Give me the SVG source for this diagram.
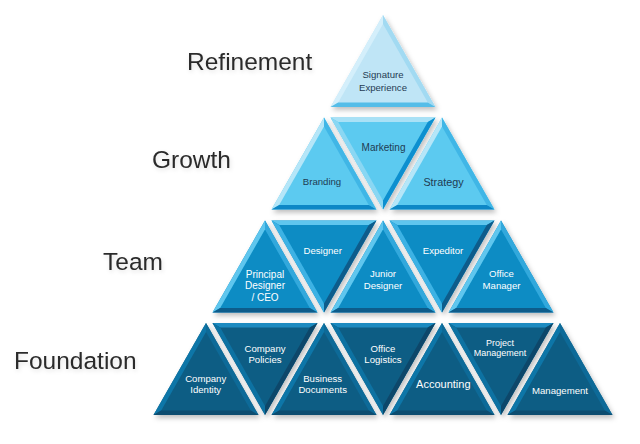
<svg xmlns="http://www.w3.org/2000/svg" xmlns:xlink="http://www.w3.org/1999/xlink" width="640" height="444" viewBox="0 0 640 444">
<defs>
<style>
.lbl{font-family:"Liberation Sans",Arial,sans-serif;font-size:24.5px;fill:#2b2b2b}
.t{font-family:"Liberation Sans",Arial,sans-serif;font-size:9.6px;text-anchor:middle}
.dk{fill:#1f3b52}
.wt{fill:#ffffff}
.tri{filter:url(#sh)}
</style>
<filter id="sh" x="-20%" y="-20%" width="140%" height="140%">
<feDropShadow dx="2" dy="3" stdDeviation="2.5" flood-color="#000" flood-opacity="0.25"/>
</filter>
<filter id="ts" x="-10%" y="-30%" width="120%" height="160%">
<feDropShadow dx="1" dy="2" stdDeviation="2" flood-color="#000" flood-opacity="0.12"/>
</filter>
<g id="up1">
<polygon points="0,0 -52.5,92 52.5,92" fill="#bfe5f6"/>
<polygon points="0,0 -52.5,92 -44.8,87.5 0,9" fill="#d4effb"/>
<polygon points="0,0 52.5,92 44.8,87.5 0,9" fill="#a2daf2"/>
<polygon points="-52.5,92 52.5,92 44.8,87.5 -44.8,87.5" fill="#55bde8"/>
</g>
<g id="up2">
<polygon points="0,0 -52.5,92 52.5,92" fill="#5ccaf0"/>
<polygon points="0,0 -52.5,92 -44.8,87.5 0,9" fill="#b5e6f8"/>
<polygon points="0,0 52.5,92 44.8,87.5 0,9" fill="#3fb6e6"/>
<polygon points="-52.5,92 52.5,92 44.8,87.5 -44.8,87.5" fill="#0b87c6"/>
</g>
<g id="inv2">
<polygon points="-52.5,0 52.5,0 0,92" fill="#5ccaf0"/>
<polygon points="-52.5,0 52.5,0 44.8,4.5 -44.8,4.5" fill="#a9e1f6"/>
<polygon points="-52.5,0 0,92 0,83 -44.8,4.5" fill="#8ad7f3"/>
<polygon points="52.5,0 0,92 0,83 44.8,4.5" fill="#0b8fcf"/>
</g>
<g id="up3">
<polygon points="0,0 -52.5,92 52.5,92" fill="#0a8cc4"/>
<polygon points="0,0 -52.5,92 -44.8,87.5 0,9" fill="#5ec6ee"/>
<polygon points="0,0 52.5,92 44.8,87.5 0,9" fill="#31a8dc"/>
<polygon points="-52.5,92 52.5,92 44.8,87.5 -44.8,87.5" fill="#0b5b8b"/>
</g>
<g id="inv3">
<polygon points="-52.5,0 52.5,0 0,92" fill="#0a8cc4"/>
<polygon points="-52.5,0 52.5,0 44.8,4.5 -44.8,4.5" fill="#5ec6ee"/>
<polygon points="-52.5,0 0,92 0,83 -44.8,4.5" fill="#3db2e4"/>
<polygon points="52.5,0 0,92 0,83 44.8,4.5" fill="#0b5b8b"/>
</g>
<g id="up4">
<polygon points="0,0 -52.5,92 52.5,92" fill="#0b5d84"/>
<polygon points="0,0 -52.5,92 -44.8,87.5 0,9" fill="#0d76a8"/>
<polygon points="0,0 52.5,92 44.8,87.5 0,9" fill="#0c6a98"/>
<polygon points="-52.5,92 52.5,92 44.8,87.5 -44.8,87.5" fill="#094d70"/>
</g>
<g id="inv4">
<polygon points="-52.5,0 52.5,0 0,92" fill="#0b5d84"/>
<polygon points="-52.5,0 52.5,0 44.8,4.5 -44.8,4.5" fill="#1c8ac0"/>
<polygon points="-52.5,0 0,92 0,83 -44.8,4.5" fill="#0d72a2"/>
<polygon points="52.5,0 0,92 0,83 44.8,4.5" fill="#08476a"/>
</g>
</defs>
<rect width="640" height="444" fill="#ffffff"/>

<g id="labels" filter="url(#ts)">
<text class="lbl" x="187" y="69.5">Refinement</text>
<text class="lbl" x="152" y="167.5">Growth</text>
<text class="lbl" x="103" y="269.5">Team</text>
<text class="lbl" x="14" y="368.5">Foundation</text>
</g>

<g id="connectors"></g>

<g id="node-signature"><use class="tri" href="#up1" transform="translate(383,15)"/>
<text class="t dk" x="383" y="78">Signature</text><text class="t dk" x="383" y="90.5">Experience</text></g>

<g id="node-branding"><use class="tri" href="#up2" transform="translate(324,117.5)"/>
<text class="t dk" x="322" y="185">Branding</text></g>
<g id="node-marketing"><use class="tri" href="#inv2" transform="translate(383,117.5)"/>
<text class="t dk" x="383.5" y="150.5" style="font-size:10px">Marketing</text></g>
<g id="node-strategy"><use class="tri" href="#up2" transform="translate(442,117.5)"/>
<text class="t dk" x="443.5" y="185.5" style="font-size:10.8px">Strategy</text></g>

<g id="node-principal"><use class="tri" href="#up3" transform="translate(265,220.5)"/>
<text class="t wt" x="265" y="277.5" style="font-size:10px">Principal</text><text class="t wt" x="265" y="289.3" style="font-size:10px">Designer</text><text class="t wt" x="265" y="300.8" style="font-size:10px">/ CEO</text></g>
<g id="node-designer"><use class="tri" href="#inv3" transform="translate(324,220.5)"/>
<text class="t wt" x="322.7" y="254">Designer</text></g>
<g id="node-junior"><use class="tri" href="#up3" transform="translate(383,220.5)"/>
<text class="t wt" x="383" y="277">Junior</text><text class="t wt" x="383" y="289">Designer</text></g>
<g id="node-expeditor"><use class="tri" href="#inv3" transform="translate(442,220.5)"/>
<text class="t wt" x="443" y="254">Expeditor</text></g>
<g id="node-office-manager"><use class="tri" href="#up3" transform="translate(501,220.5)"/>
<text class="t wt" x="501.5" y="277">Office</text><text class="t wt" x="501.5" y="289">Manager</text></g>

<g id="node-company-identity"><use class="tri" href="#up4" transform="translate(206,323)"/>
<text class="t wt" x="205.7" y="381.7">Company</text><text class="t wt" x="205.7" y="393.3">Identity</text></g>
<g id="node-company-policies"><use class="tri" href="#inv4" transform="translate(265,323)"/>
<text class="t wt" x="265" y="351.7">Company</text><text class="t wt" x="265" y="363.3">Policies</text></g>
<g id="node-business-documents"><use class="tri" href="#up4" transform="translate(324,323)"/>
<text class="t wt" x="322.7" y="381.7">Business</text><text class="t wt" x="322.7" y="393.3">Documents</text></g>
<g id="node-office-logistics"><use class="tri" href="#inv4" transform="translate(383,323)"/>
<text class="t wt" x="383" y="351.7">Office</text><text class="t wt" x="383" y="363.3">Logistics</text></g>
<g id="node-accounting"><use class="tri" href="#up4" transform="translate(442,323)"/>
<text class="t wt" x="443.3" y="387.5" style="font-size:11px">Accounting</text></g>
<g id="node-project-management"><use class="tri" href="#inv4" transform="translate(501,323)"/>
<text class="t wt" x="500" y="345.7" style="font-size:9px">Project</text><text class="t wt" x="500" y="355.7" style="font-size:9px">Management</text></g>
<g id="node-management"><use class="tri" href="#up4" transform="translate(560,323)"/>
<text class="t wt" x="560" y="394" style="font-size:9.6px">Management</text></g>
</svg>
